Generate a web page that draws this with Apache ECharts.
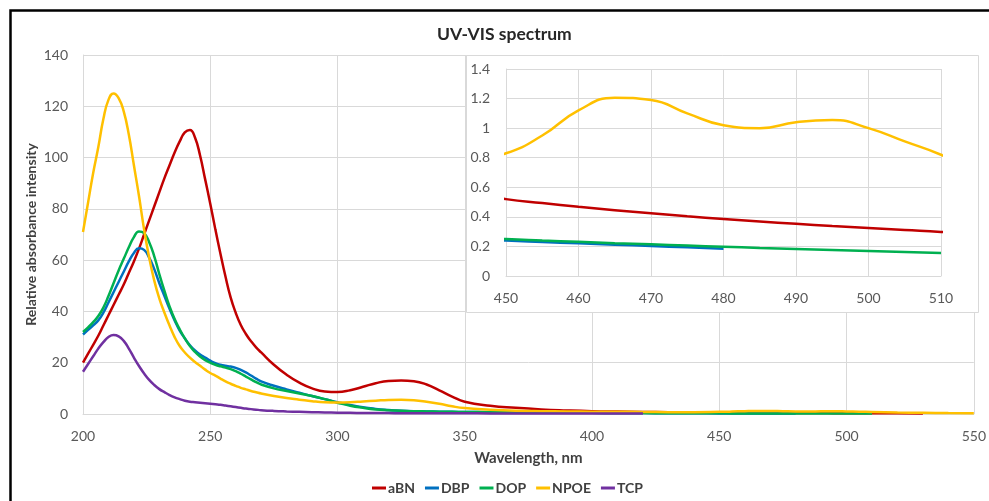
<!DOCTYPE html>
<html><head><meta charset="utf-8">
<script src="https://cdn.jsdelivr.net/npm/echarts@6/dist/echarts.min.js"></script>
<style>html,body{margin:0;padding:0;background:#fff}#c{width:989px;height:501px}</style>
</head><body><div id="c"></div>
<script>
const wavelengths = [200,202,204,206,208,210,212,214,216,218,220,222,224,226,228,230,232,234,236,238,240,242,244,246,248,250,252,254,256,258,260,262,264,266,268,270,
  275,280,285,290,295,300,305,310,315,320,325,330,335,340,345,350,
  360,370,380,390,400,410,420,430,440,
  450,455,460,465,470,475,480,485,490,495,500,505,510,
  520,530,540,550];
const aBN = [20,23.5,27,30.5,34.5,38.5,42.5,46.5,50.5,55,59.5,64.5,70,75.5,81,86.5,92,97,102,106.3,109.8,110.8,107.8,100.8,91.5,82,72,62.5,53.5,45.5,39.5,34.7,31.2,28.4,26,24,
  19.2,15.3,12.2,10,8.8,8.6,9.3,10.6,12,12.9,13.1,12.8,11.5,9.2,6.8,4.8,
  3.2,2.4,1.8,1.4,1.1,0.93,0.8,0.69,0.6,
  0.52,0.493,0.468,0.445,0.424,0.404,0.386,0.369,0.353,0.338,0.324,0.311,0.298,
  0.26,0.23];
const DBP = [31,32.8,34.6,36.5,39.5,43.5,47.5,51.5,55.5,59.5,62.8,64.6,64,61,56.5,51,46,41,36.5,32.5,29.5,26.8,24.8,23.2,22,20.8,19.8,19.2,18.8,18.5,18,17.2,16.2,15,13.8,12.7,
  11,9.6,8.3,7,5.8,4.6,3.5,2.6,2,1.6,1.3,1.1,1,0.9,0.85,0.8,
  0.7,0.62,0.55,0.49,0.44,0.39,0.35,0.3,0.27,
  0.24,0.23,0.221,0.212,0.203,0.194,0.185];
const DOP = [32,33.8,35.8,38.2,41.5,46,51,56,60.5,65,69,71.2,70.5,67,61.5,54.5,48,42,37,33,29.5,26.5,24.2,22.4,21,20,19.2,18.6,18.1,17.5,16.7,15.7,14.6,13.5,12.4,11.5,
  10,9,8,7,5.8,4.4,3.2,2.4,1.8,1.5,1.3,1.1,1,0.9,0.85,0.8,
  0.7,0.62,0.55,0.49,0.44,0.39,0.35,0.31,0.28,
  0.25,0.24,0.231,0.222,0.214,0.206,0.198,0.19,0.183,0.176,0.169,0.162,0.155];
const NPOE = [71,82.5,94,104,115,122.5,125,123.2,118,109,97,85,72,61,52,45,39.5,34.5,30,26.5,24,22,20.3,18.8,17.3,16,15,13.8,12.7,11.8,11,10.2,9.6,9,8.5,8,
  7,6.2,5.6,5,4.6,4.5,4.6,4.9,5.2,5.5,5.6,5.4,4.8,4,3,2.3,
  1.7,1.3,1.1,1.0,0.92,0.86,0.8,0.72,0.7,
  0.83,0.95,1.12,1.205,1.19,1.1,1.02,1.0,1.04,1.055,1.0,0.91,0.82,
  0.6,0.45,0.35,0.3];
const TCP = [16.5,19.5,22.5,25.5,28,30,30.8,30.3,28.5,25.5,22,18.7,15.8,13.3,11.3,9.7,8.5,7.4,6.5,5.8,5.2,4.8,4.6,4.4,4.2,4.0,3.8,3.6,3.3,3.0,2.7,2.4,2.1,1.9,1.7,1.5,
  1.2,1,0.85,0.7,0.6,0.5,0.45,0.4,0.37,0.35,0.33,0.31,0.3,0.28,0.27,0.26,
  0.24,0.23,0.22,0.21,0.2,0.2,0.2];
const seriesNames = ['aBN','DBP','DOP','NPOE','TCP'];
const seriesValues = [aBN, DBP, DOP, NPOE, TCP];
const colors = ['#C00000','#0070C0','#00B050','#FFC000','#7030A0'];
const titleText = 'UV-VIS spectrum';
const xName = 'Wavelength, nm';
const yName = 'Relative absorbance intensity';

const FONT = 'Lato';
const labelStyle = {color:'#595959', fontSize:14, fontFamily:FONT};
const gridLine = {show:true, lineStyle:{color:'#d9d9d9', width:1}};

function pairs(vals){ return vals.map((v,i)=>[wavelengths[i], v]); }

const series = [];
seriesValues.forEach((vals, k) => {
  series.push({name:seriesNames[k], type:'line', xAxisIndex:0, yAxisIndex:0, data:pairs(vals),
    smooth:0.5, showSymbol:false, z:2, lineStyle:{color:colors[k], width:2.5}, itemStyle:{color:colors[k]}});
});
seriesValues.forEach((vals, k) => {
  series.push({name:seriesNames[k], type:'line', xAxisIndex:1, yAxisIndex:1, data:pairs(vals),
    smooth:0.5, showSymbol:false, clip:true, z:6, lineStyle:{color:colors[k], width:2.5}, itemStyle:{color:colors[k]}});
});

const chart = echarts.init(document.getElementById('c'), null, {renderer:'canvas'});
chart.setOption({
  animation:false,
  backgroundColor:'#fff',
  title:{text:titleText, left:432, top:20, textStyle:{fontFamily:FONT, fontSize:17.5, fontWeight:'bold', color:'#262626'}},
  legend:{data:seriesNames, bottom:1, left:367, icon:'rect', itemWidth:14, itemHeight:3, itemGap:10,
    textStyle:{fontFamily:FONT, fontSize:14, fontWeight:'bold', color:'#404040', padding:[0,0,0,-3]}},
  graphic:[
    {type:'rect', shape:{x:10.5, y:10.5, width:1000, height:520}, style:{fill:'none', stroke:'#000', lineWidth:2.5}, z:100},
    {type:'rect', shape:{x:466.5, y:55.5, width:512, height:257}, style:{fill:'#fff', stroke:'#d9d9d9', lineWidth:1}, z:3}
  ],
  grid:[
    {left:83, right:12, top:55, bottom:87, containLabel:false},
    {left:506, right:48, top:69, bottom:225, containLabel:false}
  ],
  xAxis:[
    {type:'value', gridIndex:0, min:200, max:550, interval:50, name:xName, nameLocation:'middle', nameGap:37, nameMoveOverlap:false,
      nameTextStyle:{fontFamily:FONT, fontSize:15, fontWeight:'bold', color:'#404040'},
      axisLine:{show:true, lineStyle:{color:'#d9d9d9'}}, axisTick:{show:false}, axisLabel:Object.assign({margin:15}, labelStyle), splitLine:gridLine},
    {type:'value', gridIndex:1, min:450, max:510, interval:10, z:4,
      axisLine:{show:true, lineStyle:{color:'#d9d9d9'}}, axisTick:{show:false}, axisLabel:Object.assign({margin:15}, labelStyle), splitLine:gridLine}
  ],
  yAxis:[
    {type:'value', gridIndex:0, min:0, max:140, interval:20, name:yName, nameLocation:'middle', nameGap:45, nameMoveOverlap:false,
      nameTextStyle:{fontFamily:FONT, fontSize:14, fontWeight:'bold', color:'#404040'},
      axisLine:{show:true, lineStyle:{color:'#d9d9d9'}}, axisTick:{show:false}, axisLabel:Object.assign({margin:15}, labelStyle), splitLine:gridLine},
    {type:'value', gridIndex:1, min:0, max:1.4, interval:0.2, z:4,
      axisLine:{show:true, lineStyle:{color:'#d9d9d9'}}, axisTick:{show:false},
      axisLabel:Object.assign({margin:16, formatter:v=>String(Math.round(v*10)/10)}, labelStyle), splitLine:gridLine}
  ],
  series:series
});
</script></body></html>
